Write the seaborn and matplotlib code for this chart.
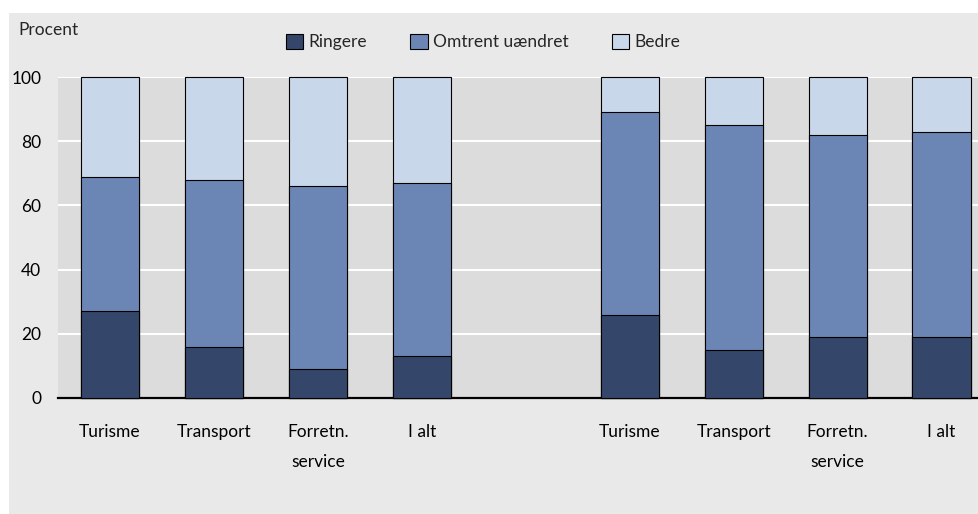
import pandas as pd
import matplotlib.pyplot as plt
import seaborn as sns
from matplotlib.patches import Patch, Rectangle

# Data (percent)
categories = ['Turisme', 'Transport', 'Forretn.\nservice', 'I alt']
groups = ['A', 'B']
ringere = [27, 16, 9, 13, 26, 15, 19, 19]
uaendret = [42, 52, 57, 54, 63, 70, 63, 64]
bedre = [31, 32, 34, 33, 11, 15, 18, 17]
series = ['Ringere', 'Omtrent uændret', 'Bedre']
colors = ['#34476b', '#6b86b5', '#c8d7ea']

# build long table, positions leave one empty slot between groups
rows = []
for g, grp in enumerate(groups):
    for i, cat in enumerate(categories):
        k = g * len(categories) + i
        rows.append({'pos': g * (len(categories) + 1) + i, 'label': cat,
                     'Ringere': ringere[k], 'Omtrent uændret': uaendret[k], 'Bedre': bedre[k]})
df = pd.DataFrame(rows)
df['c1'] = df['Ringere']
df['c2'] = df['c1'] + df['Omtrent uændret']
df['c3'] = df['c2'] + df['Bedre']

sns.set_theme(style='white')
plt.rcParams['font.family'] = ['Liberation Sans Narrow', 'Lato', 'DejaVu Sans']

fig = plt.figure(figsize=(9.79, 5.14), dpi=100, facecolor='white')
fig.patches.append(Rectangle((9 / 979, 0), 1, 1 - 13 / 514, transform=fig.transFigure,
                             facecolor='#e9e9e9', edgecolor='none', zorder=-5))
ax = fig.add_axes([58 / 979, 1 - 398 / 514, 1 - 58 / 979, (398 - 77) / 514])
ax.set_facecolor('#dcdcdc')

for col, c in zip(['c3', 'c2', 'c1'], colors[::-1]):
    sns.barplot(data=df, x='pos', y=col, native_scale=True, width=0.56, color=c,
                saturation=1, edgecolor='black', linewidth=0.8, ax=ax, zorder=3)

ax.set_xlim(-0.5, 8.36)
ax.set_ylim(0, 100)
ax.set_yticks([0, 20, 40, 60, 80, 100])
ax.yaxis.grid(True, color='white', linewidth=1.5, zorder=1)
ax.set_axisbelow(True)
ax.set_xticks(df['pos'])
ax.set_xticklabels(df['label'], linespacing=2.05, va='top')
ax.tick_params(axis='x', length=0, pad=19, labelsize=12.5, colors='black')
ax.tick_params(axis='y', length=0, pad=12, labelsize=12.5, colors='black')
ax.set_xlabel('')
ax.set_ylabel('')
for s in ['top', 'right', 'left']:
    ax.spines[s].set_visible(False)
ax.spines['bottom'].set_color('black')
ax.spines['bottom'].set_linewidth(1.6)
for p in ax.patches:
    p.set_clip_on(False)

fig.text(18 / 979, 1 - 30 / 514, 'Procent', fontsize=12.5, va='center', ha='left')
handles = [Patch(facecolor=c, edgecolor='black', linewidth=0.8) for c in colors]
fig.legend(handles, series, loc='center', bbox_to_anchor=(483 / 979, 1 - 42 / 514), ncol=3,
           frameon=False, fontsize=12.5, handlelength=1.0, handleheight=1.0,
           handletextpad=0.3, columnspacing=2.5)

fig.savefig('out.png', dpi=100, facecolor=fig.get_facecolor())
